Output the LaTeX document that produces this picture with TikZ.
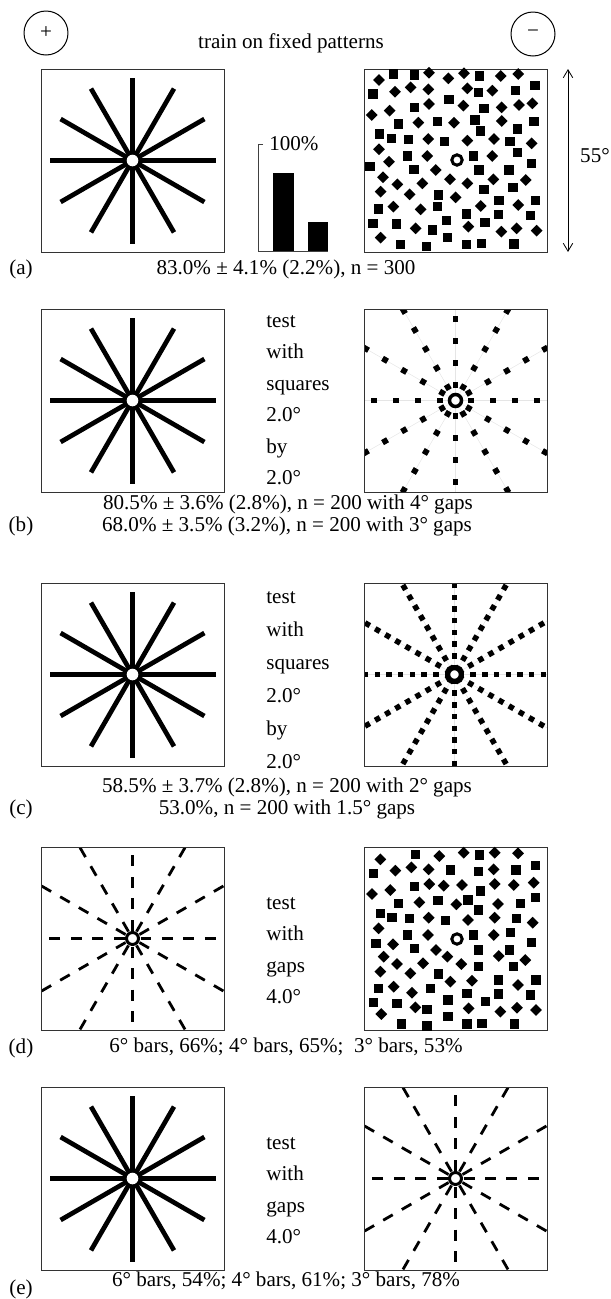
\documentclass[tikz,border=0pt]{standalone}
\usepackage{fontspec}
\setmainfont{Liberation Serif}
\usetikzlibrary{arrows.meta}

\begin{document}
\begin{tikzpicture}[
    x=0.02cm, y=-0.02cm,
    txt/.style={font=\fontsize{12}{14}\selectfont, inner sep=0pt, text height=8.5pt, text depth=2.5pt},
    frame/.style={draw=black!80, line width=0.02cm},
    spoke/.style={line width=0.094cm},
    dashspoke/.style={line width=0.056cm, dash pattern=on 0.22cm off 0.21cm},
    dotspoke/.style={line width=0.115cm, dash pattern=on 0.115cm off 0.325cm},
    densespoke/.style={line width=0.11cm, dash pattern=on 0.11cm off 0.124cm},
    guide/.style={black!10, line width=0.01cm},
    ring/.style={draw, fill=white, line width=0.06cm},
    sign/.style={draw, circle, minimum size=0.88cm, inner sep=0pt, line width=0.02cm,
                 font=\fontsize{12}{14}\selectfont}
]
\useasboundingbox (0,0) rectangle (611,1299);

% header
\node[sign] (plus) at (46,33) {+};
\node[sign] (minus) at (533,34) {−};
\node[txt] (title) at (291,43) {train on fixed patterns};

% solid stars (left column)
\foreach \t in {69,309,583,1087}{
  \draw[frame] (41,\t) rectangle ++(183,183);
  \foreach \a in {0,30,...,150}
    \draw[spoke] (132.5,{\t+91.5}) ++(\a:83) -- ++(\a+180:166);
  \fill[white] (132.5,{\t+91.5}) circle (5.8);
}

% dashed star (d), left
\begin{scope}
  \clip (41,847) rectangle ++(183,183);
  \foreach \a in {0,30,...,330}
    \draw[dashspoke] (132.5,938.5) ++(\a:8) -- ++(\a:140);
\end{scope}
\draw[frame] (41,847) rectangle ++(183,183);
\draw[ring] (132.5,938.5) circle (6);

% dashed star (e), right
\begin{scope}
  \clip (364,1087) rectangle ++(183,183);
  \foreach \a in {0,30,...,330}
    \draw[dashspoke] (455.5,1178.5) ++(\a:8) -- ++(\a:140);
\end{scope}
\draw[frame] (364,1087) rectangle ++(183,183);
\draw[ring] (455.5,1178.5) circle (6);

% squares 2 by 2, 4 deg gaps (b)
\begin{scope}
  \clip (364,309) rectangle ++(183,183);
  \foreach \a in {0,30,...,330}{
    \draw[guide] (455.5,400.5) -- ++(\a:140);
    \draw[dotspoke] (455.5,400.5) ++(\a:12.5) -- ++(\a:140);
  }
\end{scope}
\draw[frame] (364,309) rectangle ++(183,183);
\draw[ring, line width=0.07cm] (455.5,400.5) circle (6);

% squares 2 by 2, 2 deg gaps (c)
\begin{scope}
  \clip (364,583) rectangle ++(183,183);
  \foreach \a in {0,30,...,330}{
    \draw[guide] (454.5,674.5) -- ++(\a:140);
    \draw[densespoke] (454.5,674.5) ++(\a:4.25) -- ++(\a:140);
  }
\end{scope}
\draw[frame] (364,583) rectangle ++(183,183);
\draw[ring, line width=0.07cm] (454.5,674.5) circle (6);

% scattered squares and diamonds (a)
\draw[frame] (364,69) rectangle ++(183,183);
\foreach \x/\y in {103/42,167/45,362/48,42/102,358/98,470/92,528/77,167/142,270/118,375/145,
    118/192,235/185,348/180,525/185,62/222,97/235,148/238,257/245,365/213,475/207,453/245,
    145/288,343/288,475/277,33/320,165/328,360/330,450/330,517/310,375/388,462/382,238/405,
    235/440,58/447,420/422,530/422,42/490,113/492,220/510,263/482,322/462,378/487,418/463,
    515/467,265/532,125/553,203/560,322/553,368/550,465/552}
  \fill ({359+\x/3},{60+\y/3}) ++(-4.6,-4.6) rectangle ++(9.2,9.2);
\foreach \x/\y in {60/60,210/38,268/55,315/40,425/48,478/42,108/95,155/82,208/88,325/85,
    400/92,38/165,92/152,210/132,313/137,428/142,480/135,520/130,178/188,285/188,428/183,
    208/237,325/242,405/237,518/250,60/268,90/305,205/288,400/288,230/330,72/352,115/373,
    190/370,273/358,325/370,403/358,500/360,65/395,152/403,290/412,103/440,185/448,365/438,
    478/435,170/505,328/500,427/515,473/505,533/512,65/533}
  \fill ({359+\x/3},{60+\y/3}) ++(-5.9,0) -- ++(5.9,-5.9) -- ++(5.9,5.9) -- ++(-5.9,5.9) -- cycle;
\draw[ring] (457,160) circle (5.2);

% scattered squares and diamonds (d)
\draw[frame] (364,847) rectangle ++(183,183);
\foreach \x/\y in {160/103,352/105,35/160,265/150,350/155,462/150,520/137,158/200,355/213,
    110/250,228/242,318/240,350/270,475/250,520/232,55/280,90/292,142/295,250/302,463/295,
    42/370,137/345,335/345,445/337,508/368,157/385,350/390,443/390,350/440,455/440,230/462,
    410/480,522/480,50/505,205/505,315/520,258/540,370/545,410/522,505/525,35/548,105/550,
    195/568,258/590,118/612,195/618,315/612,360/610,458/612}
  \fill ({362+\x/3},{820+\y/3}) ++(-4.6,-4.6) rectangle ++(9.2,9.2);
\foreach \x/\y in {55/118,232/108,305/98,398/98,468/100,100/152,148/142,200/148,395/148,
    30/222,85/210,202/192,245/197,300/195,398/192,455/195,515/188,172/247,283/253,408/252,
    200/293,318/300,398/293,512/308,50/325,93/373,198/345,395/345,222/390,256/410,410/408,
    65/410,105/432,183/430,298/432,490/420,55/455,145/460,265/485,330/482,468/495,95/500,
    150/518,160/562,320/565,415/575,465/563,522/570,58/582}
  \fill ({362+\x/3},{820+\y/3}) ++(-5.9,0) -- ++(5.9,-5.9) -- ++(5.9,5.9) -- ++(-5.9,5.9) -- cycle;
\draw[ring] (457,939) circle (5.2);

% bar chart
\draw[black!75, line width=0.016cm] (263,144) -- (258,144) -- (258,251) -- (328,251);
\fill (273,173) rectangle (294,251);
\fill (308,222) rectangle (328,251);
\node[txt, anchor=west] (full) at (269,145) {100\%};

% field size
\coordinate (fieldtop) at (568,69);
\coordinate (fieldbot) at (568,252);
\draw[{Straight Barb[length=0.16cm,width=0.19cm]}-{Straight Barb[length=0.16cm,width=0.19cm]},
      line width=0.016cm] (fieldtop) -- (fieldbot);
\node[txt] (field) at (595,157) {55°};

% test conditions
\foreach \w [count=\i] in {test,with,squares,2.0°,by,2.0°}
  \node[txt, anchor=west] (colb\i) at (266,{322+31.5*(\i-1)}) {\w};
\foreach \w [count=\i] in {test,with,squares,2.0°,by,2.0°}
  \node[txt, anchor=west] (colc\i) at (266,{598+33*(\i-1)}) {\w};
\foreach \w [count=\i] in {test,with,gaps,4.0°}
  \node[txt, anchor=west] (cold\i) at (266,{904+31.5*(\i-1)}) {\w};
\foreach \w [count=\i] in {test,with,gaps,4.0°}
  \node[txt, anchor=west] (cole\i) at (266,{1144+31.5*(\i-1)}) {\w};

% captions
\node[txt] (laba) at (21,269) {(a)};
\node[txt] (capa) at (286,269) {83.0\% ± 4.1\% (2.2\%), n = 300};
\node[txt] (capb1) at (288,504) {80.5\% ± 3.6\% (2.8\%), n = 200 with 4° gaps};
\node[txt] (labb) at (21,526) {(b)};
\node[txt] (capb2) at (287,526) {68.0\% ± 3.5\% (3.2\%), n = 200 with 3° gaps};
\node[txt] (capc1) at (287,787) {58.5\% ± 3.7\% (2.8\%), n = 200 with 2° gaps};
\node[txt] (labc) at (21,809) {(c)};
\node[txt] (capc2) at (287,809) {53.0\%, n = 200 with 1.5° gaps};
\node[txt] (labd) at (21,1048) {(d)};
\node[txt] (capd) at (286,1047) {6° bars, 66\%; 4° bars, 65\%;\ \ 3° bars, 53\%};
\node[txt] (labe) at (21,1289) {(e)};
\node[txt] (cape) at (286,1281) {6° bars, 54\%; 4° bars, 61\%; 3° bars, 78\%};
\end{tikzpicture}
\end{document}
